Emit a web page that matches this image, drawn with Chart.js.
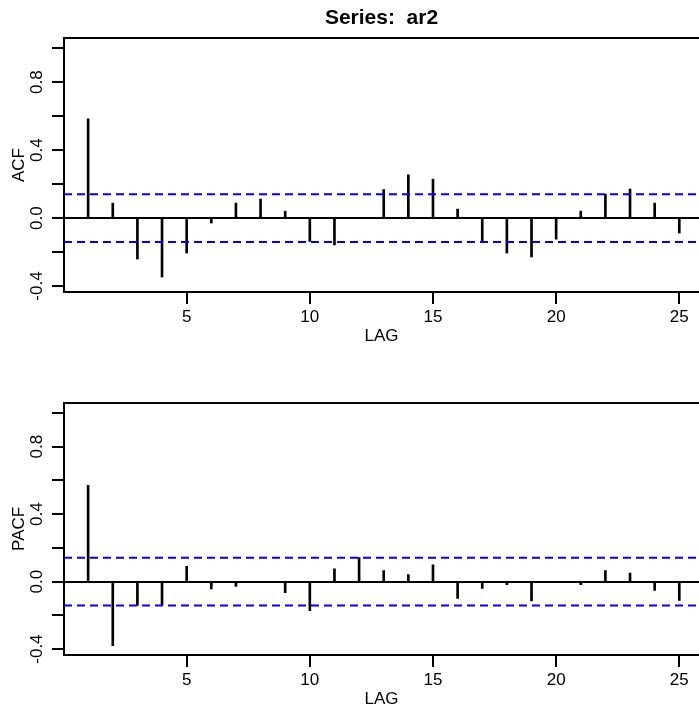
<!DOCTYPE html>
<html><head><meta charset="utf-8">
<script src="https://cdn.jsdelivr.net/npm/chart.js@4"></script>
<style>
html,body{margin:0;padding:0;background:#fff;overflow:hidden;width:699px;height:710px;}
#c1{position:absolute;left:0;top:0;}
#c2{position:absolute;left:0;top:347px;}
</style></head><body>
<canvas id="c1" width="699" height="347"></canvas>
<canvas id="c2" width="699" height="363"></canvas>
<script>
// ---- data ----
const lags = [1,2,3,4,5,6,7,8,9,10,11,12,13,14,15,16,17,18,19,20,21,22,23,24,25];
const acfValues = [0.584, 0.088, -0.241, -0.347, -0.206, -0.029, 0.088, 0.112, 0.041, -0.137, -0.158, 0.0, 0.168, 0.255, 0.229, 0.053, -0.137, -0.206, -0.229, -0.124, 0.041, 0.141, 0.171, 0.088, -0.088];
const pacfValues = [0.571, -0.380, -0.141, -0.137, 0.090, -0.043, -0.028, 0.0, -0.065, -0.173, 0.076, 0.143, 0.065, 0.041, 0.100, -0.100, -0.041, -0.018, -0.114, 0.0, -0.018, 0.065, 0.051, -0.052, -0.111];
const ciBound = 0.141;
const mainTitle = 'Series:  ar2';
const xAxisLabel = 'LAG';
const yAxisLabels = ['ACF', 'PACF'];
const yTickLabelValues = [-0.4, 0.0, 0.4, 0.8];
const xRange = [0.02, 25.8];
const yRange = [-0.435, 1.06];

const FAMILY = "'Liberation Sans', Arial, Helvetica, sans-serif";
const tickFont = {family: FAMILY, size: 17};
Chart.defaults.color = '#000';

function makeChart(canvas, values, yLabel, withTitle, topPad) {
  return new Chart(canvas, {
    type: 'bar',
    data: {
      datasets: [
        {type: 'bar', data: lags.map((l, i) => ({x: l, y: values[i]})),
         backgroundColor: '#000', borderWidth: 0, barThickness: 2, order: 1},
        {type: 'line', data: [{x: xRange[0], y: ciBound}, {x: xRange[1], y: ciBound}],
         borderColor: '#0000ff', borderWidth: 2, borderDash: [8, 5], pointRadius: 0, fill: false, order: 0},
        {type: 'line', data: [{x: xRange[0], y: -ciBound}, {x: xRange[1], y: -ciBound}],
         borderColor: '#0000ff', borderWidth: 2, borderDash: [8, 5], pointRadius: 0, fill: false, order: 0}
      ]
    },
    options: {
      responsive: false, animation: false, events: [],
      layout: {padding: {top: topPad, left: 0, right: 0, bottom: 0}},
      plugins: {
        legend: {display: false},
        tooltip: {enabled: false},
        title: withTitle ? {
          display: true, text: mainTitle, fullSize: false, align: 'center', color: '#000',
          font: {family: FAMILY, size: 21, weight: 'bold'}, padding: {top: 6, bottom: 6.8}
        } : {display: false}
      },
      scales: {
        x: {
          type: 'linear', position: 'bottom', min: xRange[0], max: xRange[1], offset: false,
          ticks: {stepSize: 5, includeBounds: false, autoSkip: false, minRotation: 0, maxRotation: 0,
                  padding: 3, font: tickFont, color: '#000'},
          grid: {display: true, drawOnChartArea: false, drawTicks: true, tickLength: 12,
                 color: '#000', lineWidth: 2, offset: false},
          border: {display: true, color: '#000', width: 2},
          title: {display: true, text: xAxisLabel, font: tickFont, color: '#000', padding: {top: 0, bottom: 0}},
          afterFit: s => { s.height = 55; s.paddingLeft = 0; s.paddingRight = 0; }
        },
        xTop: {
          type: 'linear', position: 'top', display: true,
          ticks: {display: false},
          grid: {display: true, drawOnChartArea: false, drawTicks: false, color: 'rgba(0,0,0,0)'},
          border: {display: true, color: '#000', width: 2},
          afterFit: s => { s.height = 0; s.paddingLeft = 0; s.paddingRight = 0; }
        },
        y: {
          type: 'linear', position: 'left', min: yRange[0], max: yRange[1],
          ticks: {stepSize: 0.2, includeBounds: false, autoSkip: false, minRotation: 90, maxRotation: 90,
                  crossAlign: 'center', padding: 0, font: tickFont, color: '#000',
                  callback: v => {
                    const r = Math.round(v * 10) / 10;
                    return yTickLabelValues.some(t => Math.abs(t - r) < 1e-9) ? r.toFixed(1) : '';
                  }},
          grid: {display: true, drawOnChartArea: true, drawTicks: true, tickLength: 12, lineWidth: 2,
                 tickColor: '#000',
                 color: c => (c.tick && Math.abs(c.tick.value) < 1e-9) ? '#000' : 'rgba(0,0,0,0)'},
          border: {display: true, color: '#000', width: 2},
          title: {display: true, text: yLabel, font: tickFont, color: '#000', padding: {top: 9.5, bottom: 0}},
          afterFit: s => { s.width = 64; s.paddingTop = 0; s.paddingBottom = 0; }
        }
      }
    }
  });
}

makeChart(document.getElementById('c1'), acfValues, yAxisLabels[0], true, 0);
makeChart(document.getElementById('c2'), pacfValues, yAxisLabels[1], false, 55.7);
</script>
</body></html>
